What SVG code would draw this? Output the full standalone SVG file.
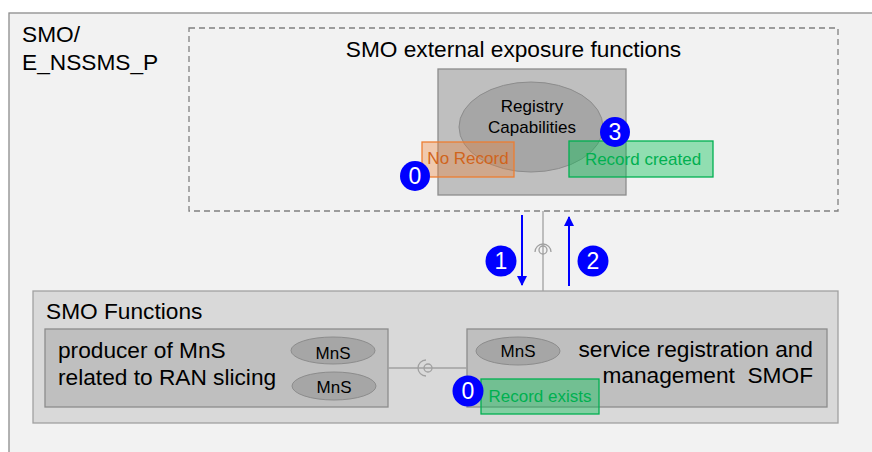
<svg xmlns="http://www.w3.org/2000/svg" width="872" height="452" viewBox="0 0 872 452">
<defs>
<style>
text{font-family:"Liberation Sans",Arial,sans-serif;fill:#000}
.big{font-size:22.7px}
.mid{font-size:17px}
.badge circle{fill:#0000ff}
.badge text{fill:#fff;font-size:23px;text-anchor:middle}
.blue{stroke:#0000ff;stroke-width:2;fill:none}
.gline{stroke:#a0a0a0;stroke-width:1.3;fill:none}
.tag-green{fill:#00c050;fill-opacity:0.4;stroke:#00b050;stroke-width:1.3}
.tag-green-t{fill:#00b050;font-size:17px;text-anchor:middle}
.tag-orange{fill:#ed7d31;fill-opacity:0.35;stroke:#ed7d31;stroke-width:1.3}
.mns{fill:#a6a6a6;stroke:#8c8c8c;stroke-width:1}
</style>
<marker id="ah" viewBox="0 0 10 10" refX="9" refY="5" markerWidth="5" markerHeight="5" orient="auto" markerUnits="strokeWidth">
<path d="M0,0 L10,5 L0,10 z" fill="#0000ff"/>
</marker>
</defs>
<rect x="0" y="0" width="872" height="452" fill="#ffffff"/>
<g id="outer">
<rect x="9" y="13" width="880" height="460" fill="#f2f2f2" stroke="#8c8c8c" stroke-width="1.3"/>
<text class="big" x="22" y="42">SMO/</text>
<text class="big" x="22" y="70">E_NSSMS_P</text>
</g>
<g id="exposure">
<rect x="189" y="28" width="649" height="183" fill="none" stroke="#808080" stroke-width="1.3" stroke-dasharray="6,4"/>
<text class="big" x="513.5" y="57" text-anchor="middle">SMO external exposure functions</text>
</g>
<g id="registry">
<rect x="438" y="69" width="188" height="126" fill="#bfbfbf" stroke="#8c8c8c" stroke-width="1.3"/>
<ellipse cx="531" cy="127" rx="72" ry="45" fill="#a6a6a6" stroke="#8c8c8c" stroke-width="1"/>
<text class="mid" x="532" y="112" text-anchor="middle">Registry</text>
<text class="mid" x="532" y="133" text-anchor="middle">Capabilities</text>
</g>
<g id="no-record">
<rect class="tag-orange" x="422" y="142" width="92" height="35"/>
<text x="468" y="164" font-size="17" style="fill:#d0641c" text-anchor="middle">No Record</text>
</g>
<g id="record-created">
<rect class="tag-green" x="569" y="141" width="144" height="36"/>
<text class="tag-green-t" x="643" y="165">Record created</text>
</g>
<g id="smo-functions">
<rect x="33" y="291" width="805" height="132" fill="#d9d9d9" stroke="#a0a0a0" stroke-width="1.3"/>
<text class="big" x="46" y="319">SMO Functions</text>
</g>
<g id="producer">
<rect x="45" y="329" width="343" height="78" fill="#bfbfbf" stroke="#8c8c8c" stroke-width="1.3"/>
<text class="big" x="58" y="358">producer of MnS</text>
<text class="big" x="58" y="385">related to RAN slicing</text>
<ellipse class="mns" cx="333" cy="350.5" rx="42" ry="13.5"/>
<text class="mid" x="333" y="359" text-anchor="middle">MnS</text>
<ellipse class="mns" cx="334" cy="386" rx="42" ry="14"/>
<text class="mid" x="334" y="393" text-anchor="middle">MnS</text>
</g>
<g id="smof">
<rect x="467" y="329" width="360" height="78" fill="#bfbfbf" stroke="#8c8c8c" stroke-width="1.3"/>
<ellipse class="mns" cx="518" cy="351" rx="42" ry="14"/>
<text class="mid" x="518" y="357" text-anchor="middle">MnS</text>
<text class="big" x="813" y="357" text-anchor="end">service registration and</text>
<text class="big" x="813" y="383" text-anchor="end" xml:space="preserve">management  SMOF</text>
</g>
<g id="record-exists">
<rect class="tag-green" x="481" y="379" width="118" height="35"/>
<text class="tag-green-t" x="540" y="402">Record exists</text>
</g>
<g id="connectors">
<line class="gline" x1="543" y1="211" x2="543" y2="291"/>
<circle class="gline" cx="543" cy="250" r="4"/>
<path class="gline" d="M535,252 A8,8 0 0 1 551,252"/>
<line class="gline" x1="388" y1="368" x2="467" y2="368"/>
<circle class="gline" cx="428" cy="368" r="4"/>
<path class="gline" d="M426,360 A8,8 0 0 0 426,376"/>
<line class="blue" x1="522" y1="215" x2="522" y2="285" marker-end="url(#ah)"/>
<line class="blue" x1="569" y1="286" x2="569" y2="217" marker-end="url(#ah)"/>
</g>
<g id="badges">
<g class="badge"><circle cx="415" cy="176" r="15"/><text x="415" y="184">0</text></g>
<g class="badge"><circle cx="615" cy="132" r="15"/><text x="615" y="140">3</text></g>
<g class="badge"><circle cx="501" cy="261" r="15.5"/><text x="501" y="269">1</text></g>
<g class="badge"><circle cx="593" cy="261" r="15.5"/><text x="593" y="269">2</text></g>
<g class="badge"><circle cx="468" cy="391" r="15.5"/><text x="468" y="399">0</text></g>
</g>
</svg>
